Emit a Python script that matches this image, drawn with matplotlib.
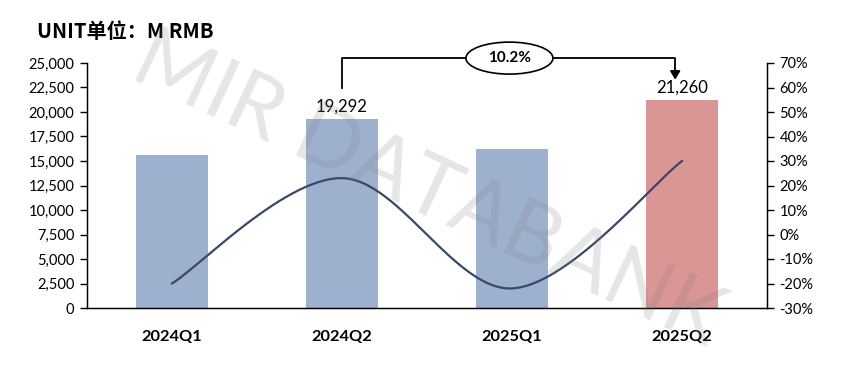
import matplotlib
matplotlib.use("Agg")
import matplotlib.pyplot as plt
from matplotlib.patches import Ellipse
from matplotlib.ticker import FuncFormatter, MultipleLocator
import numpy as np

categories = ["2024Q1", "2024Q2", "2025Q1", "2025Q2"]
revenue = [15600, 19292, 16200, 21260]
growth = [-0.20, 0.23, -0.22, 0.30]
bar_colors = ["#9db1cf", "#9db1cf", "#9db1cf", "#d99694"]
value_labels = {1: "19,292", 3: "21,260"}
yoy_text = "10.2%"
title = "UNIT单位：M RMB"
watermark = "MIR DATABANK"

fig = plt.figure(figsize=(8.43, 3.67), dpi=100)
ax = fig.add_axes([87/843, 1-308/367, 680/843, 245/367])
x = np.arange(len(categories))
ax.bar(x, revenue, width=0.42, color=bar_colors, zorder=2)
ax.set_xlim(-0.5, 3.5)
ax.set_ylim(0, 25000)
ax.yaxis.set_major_locator(MultipleLocator(2500))
ax.yaxis.set_major_formatter(FuncFormatter(lambda v, p: f"{int(v):,}"))
ax.set_xticks(x)
ax.set_xticklabels(categories, fontsize=11.8, fontweight="bold", family="Lato")
ax.tick_params(axis="x", length=0, pad=16)
ax.tick_params(axis="y", length=5, width=1, labelsize=10.5, pad=4)
for lab in ax.get_yticklabels():
    lab.set_family("Lato")
ax.spines["top"].set_visible(False)
for s in ["left", "right", "bottom"]:
    ax.spines[s].set_linewidth(1)
    ax.spines[s].set_color("black")

ax2 = ax.twinx()
ax2.set_ylim(-0.3, 0.7)
ax2.yaxis.set_major_locator(MultipleLocator(0.1))
ax2.yaxis.set_major_formatter(FuncFormatter(lambda v, p: f"{v*100:.0f}%"))
ax2.tick_params(axis="y", length=5, width=1, labelsize=10.5, pad=4)
for lab in ax2.get_yticklabels():
    lab.set_family("Lato")
ax2.spines["top"].set_visible(False)

# smoothed line (Excel-like Bezier smoothing)
X = x * 170.0
Y = np.array(growth) * 245.0
P = np.column_stack([X, Y])
Pext = np.vstack([P[0], P, P[-1]])
xs, ys = [], []
for i in range(len(P) - 1):
    p0, p1, p2, p3 = Pext[i], Pext[i+1], Pext[i+2], Pext[i+3]
    c1 = p1 + (p2 - p0) / 6.0
    c2 = p2 - (p3 - p1) / 6.0
    t = np.linspace(0, 1, 60)[:, None]
    seg = (1-t)**3*p1 + 3*(1-t)**2*t*c1 + 3*(1-t)*t**2*c2 + t**3*p2
    xs.extend(seg[:, 0]); ys.extend(seg[:, 1])
ax2.plot(np.array(xs)/170.0, np.array(ys)/245.0, color="#3a4868", lw=1.6, zorder=3)

# value labels
for i, t in value_labels.items():
    ax.annotate(t, (x[i], revenue[i]), xytext=(0, 3), textcoords="offset points",
                ha="center", va="bottom", fontsize=12, family="Lato")

# bracket annotation
ytop = 25500
ax.plot([x[1], x[1], x[3]-0.04, x[3]-0.04], [22450, ytop, ytop, 24200],
        color="black", lw=1.3, clip_on=False, zorder=5)
ax.annotate("", xy=(x[3]-0.04, 23300), xytext=(x[3]-0.04, 24400),
            arrowprops=dict(arrowstyle="-|>,head_width=0.3,head_length=0.5",
                            color="black", lw=1.3, shrinkA=0, shrinkB=0),
            annotation_clip=False, zorder=5)
ell = Ellipse(((x[1]+x[3])/2 - 0.015, ytop), width=87/170, height=32/245*25000,
              facecolor="white", edgecolor="black", lw=1.2, clip_on=False, zorder=6)
ax.add_patch(ell)
ax.text((x[1]+x[3])/2 - 0.015, ytop, yoy_text, ha="center", va="center",
        fontsize=11, fontweight="bold", family="Lato", zorder=7, clip_on=False)

fig.text(37/843, 1-32/367, title, ha="left", va="center", fontsize=14.5,
         fontweight="bold", family=["Noto Sans CJK SC", "DejaVu Sans"])

fig.text(428/843, 1-190/367, watermark, ha="center", va="center", fontsize=61,
         rotation=-25, color="#808080", alpha=0.2, family="Lato",
         fontweight="normal", zorder=10)

fig.savefig("out.png", dpi=100)
